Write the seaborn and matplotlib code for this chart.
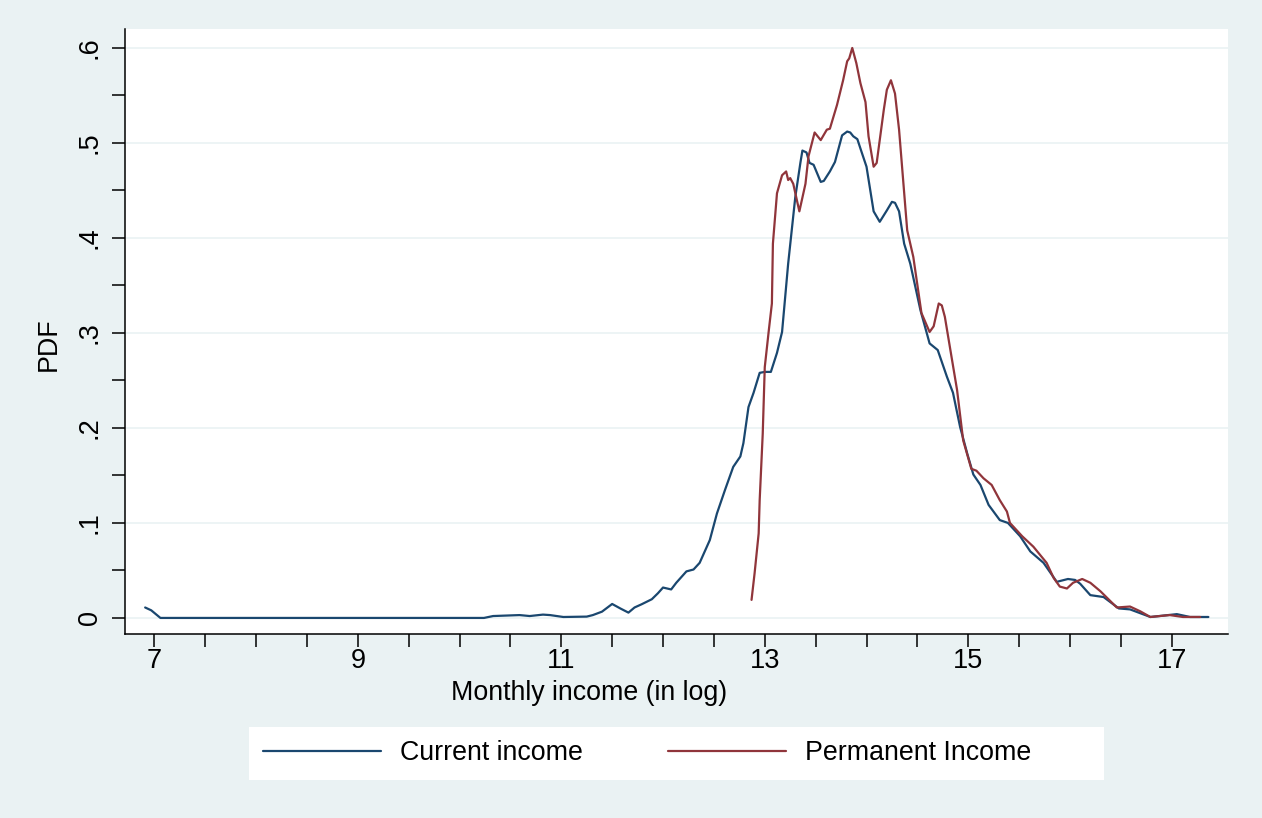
import numpy as np
import pandas as pd
import seaborn as sns
import matplotlib.pyplot as plt
from matplotlib.patches import Rectangle

# kernel density curves
current_x = [6.91, 6.97, 7.06, 10.24, 10.33, 10.59, 10.69, 10.82, 10.89, 11.02, 11.25, 11.31,
             11.40, 11.50, 11.58, 11.66, 11.72, 11.79, 11.89, 11.95, 12.00, 12.08, 12.13, 12.23,
             12.30, 12.36, 12.46, 12.53, 12.61, 12.69, 12.76, 12.79, 12.84, 12.89, 12.95, 13.00,
             13.06, 13.12, 13.17, 13.23, 13.30, 13.35, 13.37, 13.41, 13.44, 13.48, 13.55, 13.58,
             13.64, 13.69, 13.76, 13.81, 13.84, 13.87, 13.91, 13.95, 14.00, 14.07, 14.13, 14.20,
             14.25, 14.28, 14.32, 14.37, 14.43, 14.53, 14.62, 14.70, 14.79, 14.85, 14.92, 14.99,
             15.05, 15.12, 15.20, 15.31, 15.39, 15.51, 15.61, 15.74, 15.87, 15.98, 16.05, 16.10,
             16.20, 16.33, 16.48, 16.59, 16.79, 17.05, 17.18, 17.36]
current_y = [0.011, 0.008, 0.0, 0.0, 0.002, 0.003, 0.002, 0.0035, 0.003, 0.001, 0.0014, 0.003,
             0.0066, 0.0147, 0.010, 0.0056, 0.011, 0.0144, 0.0197, 0.026, 0.032, 0.030, 0.037, 0.049,
             0.051, 0.058, 0.082, 0.110, 0.135, 0.159, 0.170, 0.184, 0.222, 0.237, 0.258, 0.259,
             0.259, 0.279, 0.301, 0.373, 0.443, 0.479, 0.492, 0.490, 0.479, 0.477, 0.459, 0.460,
             0.470, 0.480, 0.508, 0.512, 0.511, 0.507, 0.504, 0.491, 0.475, 0.428, 0.417, 0.429,
             0.438, 0.437, 0.428, 0.394, 0.373, 0.324, 0.289, 0.282, 0.254, 0.237, 0.201, 0.173,
             0.151, 0.140, 0.119, 0.103, 0.100, 0.086, 0.070, 0.058, 0.038, 0.041, 0.040, 0.036,
             0.024, 0.022, 0.010, 0.009, 0.001, 0.004, 0.001, 0.001]

permanent_x = [12.87, 12.90, 12.94, 12.95, 12.98, 13.00, 13.04, 13.07, 13.08, 13.12, 13.17, 13.21,
               13.23, 13.25, 13.28, 13.34, 13.40, 13.43, 13.49, 13.55, 13.61, 13.64, 13.71, 13.77,
               13.81, 13.83, 13.86, 13.90, 13.94, 13.99, 14.02, 14.07, 14.10, 14.13, 14.17, 14.20,
               14.24, 14.28, 14.32, 14.36, 14.40, 14.46, 14.54, 14.62, 14.66, 14.71, 14.74, 14.77,
               14.84, 14.89, 14.95, 15.03, 15.08, 15.15, 15.23, 15.31, 15.38, 15.41, 15.53, 15.64,
               15.77, 15.84, 15.90, 15.97, 16.03, 16.12, 16.20, 16.30, 16.46, 16.59, 16.69, 16.79,
               16.98, 17.11, 17.28]
permanent_y = [0.019, 0.047, 0.089, 0.124, 0.194, 0.264, 0.303, 0.331, 0.394, 0.447, 0.466, 0.470,
               0.461, 0.463, 0.457, 0.428, 0.457, 0.486, 0.511, 0.503, 0.514, 0.515, 0.540, 0.566,
               0.586, 0.589, 0.600, 0.584, 0.563, 0.543, 0.507, 0.475, 0.479, 0.503, 0.535, 0.556,
               0.566, 0.552, 0.514, 0.461, 0.408, 0.380, 0.321, 0.301, 0.307, 0.331, 0.329, 0.317,
               0.272, 0.24, 0.187, 0.157, 0.155, 0.147, 0.140, 0.124, 0.112, 0.100, 0.086, 0.075,
               0.058, 0.042, 0.033, 0.031, 0.037, 0.041, 0.037, 0.028, 0.011, 0.012, 0.007, 0.001,
               0.003, 0.001, 0.001]

series_names = ['Current income', 'Permanent Income']
x_labels = [7, 9, 11, 13, 15, 17]
y_labels = [0, 0.1, 0.2, 0.3, 0.4, 0.5, 0.6]
y_label_text = ['0', '.1', '.2', '.3', '.4', '.5', '.6']

df = pd.concat([
    pd.DataFrame({'income': current_x, 'pdf': current_y, 'series': series_names[0]}),
    pd.DataFrame({'income': permanent_x, 'pdf': permanent_y, 'series': series_names[1]}),
])

bg = '#eaf2f3'
sns.set_style('white')
plt.rcParams['font.family'] = ['Liberation Sans', 'DejaVu Sans']
plt.rcParams['text.color'] = 'black'
plt.rcParams['axes.labelcolor'] = 'black'
plt.rcParams['xtick.color'] = 'black'
plt.rcParams['ytick.color'] = 'black'

fig = plt.figure(figsize=(12.62, 8.18), dpi=100, facecolor=bg)
ax = fig.add_axes([0.0993, 0.2246, 0.8740, 0.7400])
ax.set_facecolor('white')

sns.lineplot(data=df, x='income', y='pdf', hue='series', estimator=None, sort=False,
             palette={'Current income': '#1a476f', 'Permanent Income': '#90353b'},
             linewidth=1.6, ax=ax, legend=True)

ax.set_xlim(6.715, 17.556)
ax.set_ylim(-0.0172, 0.620)

# ticks every .5 / .05, labels every 2 / .1
ax.set_xticks(np.arange(7, 17.01, 0.5))
ax.set_xticklabels([str(int(v)) if v in x_labels else '' for v in np.arange(7, 17.01, 0.5)])
ax.set_yticks(y_labels)
ax.set_yticklabels(y_label_text, rotation=90, va='center')
ax.set_yticks(np.arange(0.05, 0.6, 0.1), minor=True)

ax.tick_params(axis='both', which='both', direction='out', length=9.7, width=1.1,
               color='black', labelcolor='black', labelsize=19.5, bottom=True, left=True)
ax.tick_params(axis='x', pad=0.3)
ax.tick_params(axis='y', pad=6.5)
ax.grid(axis='y', which='major', color=bg, linewidth=1.2)
ax.grid(axis='x', visible=False)

for s in ['top', 'right']:
    ax.spines[s].set_visible(False)
for s in ['left', 'bottom']:
    ax.spines[s].set_color('black')
    ax.spines[s].set_linewidth(1.1)

ax.set_xlabel('Monthly income (in log)', fontsize=19.3, color='black')
ax.set_ylabel('PDF', fontsize=19.3, color='black')
ax.xaxis.set_label_coords(0.4204, -0.0755)
ax.yaxis.set_label_coords(-0.0574, 0.4796)

# legend box
handles, labels = ax.get_legend_handles_labels()
ax.get_legend().remove()
fig.patches.append(Rectangle((249 / 1262, (818 - 780) / 818), 855 / 1262, 53 / 818,
                             transform=fig.transFigure, facecolor='white', edgecolor='none',
                             zorder=0))
fig.legend(handles, labels, loc='center left', bbox_to_anchor=(263 / 1262, 64.5 / 818),
           ncol=2, frameon=False, fontsize=19.3, handlelength=4.4, handletextpad=0.7,
           columnspacing=3.2, borderpad=0, borderaxespad=0, labelcolor='black')

fig.savefig('out.png', dpi=100, facecolor=bg)
